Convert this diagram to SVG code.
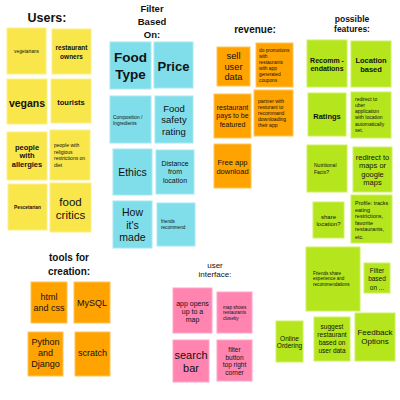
<svg xmlns="http://www.w3.org/2000/svg" width="400" height="400" viewBox="0 0 400 400">
<style>
text{font-family:"Liberation Sans",Arial,sans-serif;fill:#111;dominant-baseline:central}
.c{text-anchor:middle}
.l{text-anchor:start}
.t{font-weight:bold}
.y{fill:#F9E64A;stroke:#FBEF8A;stroke-width:1}
.b{fill:#80DEEA;stroke:#A5E8F1;stroke-width:1}
.o{fill:#FFA300;stroke:#FFC45A;stroke-width:1}
.g{fill:#B5E61D;stroke:#CDEF63;stroke-width:1}
.p{fill:#FF85B0;stroke:#FFA6C6;stroke-width:1}
</style>
<rect width="400" height="400" fill="#fff"/>
<g id="titles">
<text class="c t" x="47" y="18" font-size="12.5">Users:</text>
<text class="c t" x="152" y="8" font-size="9.5">Filter</text>
<text class="c t" x="152" y="21" font-size="9.5">Based</text>
<text class="c t" x="152" y="34" font-size="9.5">On:</text>
<text class="c t" x="255" y="29" font-size="10">revenue:</text>
<text class="c t" x="352" y="19" font-size="8.5">possible</text>
<text class="c t" x="352" y="29" font-size="8.5">features:</text>
<text class="c t" x="69" y="257" font-size="10">tools for</text>
<text class="c t" x="69" y="271" font-size="10">creation:</text>
<text class="c" x="215" y="265" font-size="8">user</text>
<text class="c" x="215" y="274.5" font-size="8">interface:</text>
</g>
<g id="n-vegetarians"><rect class="y" x="7" y="28" width="39" height="46"/><text class="c" x="26.5" y="51" font-size="4.8">vegetarians</text></g>
<g id="n-owners"><rect class="y" x="52" y="29" width="39" height="45"/><text class="c t" x="71.5" y="47" font-size="6.5">restaurant</text><text class="c t" x="71.5" y="56" font-size="6.5">owners</text></g>
<g id="n-vegans"><rect class="y" x="7" y="79" width="40" height="45"/><text class="c t" x="27" y="103" font-size="10.5">vegans</text></g>
<g id="n-tourists"><rect class="y" x="51" y="79" width="40" height="44"/><text class="c t" x="71" y="102" font-size="7.5">tourists</text></g>
<g id="n-allergies"><rect class="y" x="7" y="132" width="40" height="48"/><text class="c t" x="27" y="147" font-size="7.5">people</text><text class="c t" x="27" y="155.5" font-size="7.5">with</text><text class="c t" x="27" y="164" font-size="7.5">allergies</text></g>
<g id="n-religious"><rect class="y" x="50" y="130" width="40" height="50"/><text class="l" x="54" y="145" font-size="5">people with</text><text class="l" x="54" y="151.5" font-size="5">religious</text><text class="l" x="54" y="158" font-size="5">restrictions on</text><text class="l" x="54" y="164.5" font-size="5">diet</text></g>
<g id="n-pescetarian"><rect class="y" x="8" y="184" width="39" height="46"/><text class="c t" x="27.5" y="207" font-size="4.8">Pescetarian</text></g>
<g id="n-critics"><rect class="y" x="50" y="183" width="41" height="49"/><text class="c" x="70.5" y="201.5" font-size="11.5">food</text><text class="c" x="70.5" y="215" font-size="11.5">critics</text></g>

<g id="n-foodtype"><rect class="b" x="110" y="42" width="41" height="47"/><text class="c t" x="130.5" y="57.5" font-size="13.5">Food</text><text class="c t" x="130.5" y="74" font-size="13.5">Type</text></g>
<g id="n-price"><rect class="b" x="154" y="42" width="39" height="46"/><text class="c t" x="173.5" y="66" font-size="13">Price</text></g>
<g id="n-composition"><rect class="b" x="110" y="96" width="41" height="47"/><text class="l" x="113" y="117" font-size="4.8">Composition /</text><text class="l" x="113" y="123" font-size="4.8">Ingredients</text></g>
<g id="n-safety"><rect class="b" x="155" y="96" width="38" height="47"/><text class="c" x="174" y="108" font-size="9.5">Food</text><text class="c" x="174" y="119.5" font-size="9.5">safety</text><text class="c" x="174" y="131.5" font-size="9.5">rating</text></g>
<g id="n-ethics"><rect class="b" x="113" y="149" width="39" height="46"/><text class="c" x="132.5" y="172" font-size="10.5">Ethics</text></g>
<g id="n-distance"><rect class="b" x="156" y="150" width="38" height="44"/><text class="c" x="175" y="163" font-size="7">Distance</text><text class="c" x="175" y="171.5" font-size="7">from</text><text class="c" x="175" y="180" font-size="7">location</text></g>
<g id="n-howmade"><rect class="b" x="113" y="201" width="39" height="47"/><text class="c" x="132.5" y="212" font-size="10.5">How</text><text class="c" x="132.5" y="224.5" font-size="10.5">it's</text><text class="c" x="132.5" y="237" font-size="10.5">made</text></g>
<g id="n-friendsrec"><rect class="b" x="157" y="203" width="38" height="43"/><text class="l" x="161" y="221" font-size="4.6">friends</text><text class="l" x="161" y="227" font-size="4.6">recommend</text></g>

<g id="n-sell"><rect class="o" x="217" y="47" width="33" height="39"/><text class="c" x="233.5" y="56" font-size="9.3">sell</text><text class="c" x="233.5" y="66.5" font-size="9.3">user</text><text class="c" x="233.5" y="77" font-size="9.3">data</text></g>
<g id="n-promotions"><rect class="o" x="256" y="43" width="37" height="44"/><text class="l" x="259" y="50" font-size="4.8">do promotions</text><text class="l" x="259" y="56" font-size="4.8">with</text><text class="l" x="259" y="62" font-size="4.8">restaurants</text><text class="l" x="259" y="68" font-size="4.8">with app</text><text class="l" x="259" y="74" font-size="4.8">generated</text><text class="l" x="259" y="80" font-size="4.8">coupons</text></g>
<g id="n-pays"><rect class="o" x="214" y="94" width="37" height="44"/><text class="c" x="232.5" y="107" font-size="7">restaurant</text><text class="c" x="232.5" y="115.5" font-size="7">pays to be</text><text class="c" x="232.5" y="124" font-size="7">featured</text></g>
<g id="n-partner"><rect class="o" x="254" y="90" width="39" height="46"/><text class="l" x="258" y="101" font-size="5">partner with</text><text class="l" x="258" y="107" font-size="5">resturant to</text><text class="l" x="258" y="113" font-size="5">recommand</text><text class="l" x="258" y="119" font-size="5">downloading</text><text class="l" x="258" y="125" font-size="5">their app</text></g>
<g id="n-freeapp"><rect class="o" x="214" y="144" width="37" height="44"/><text class="c" x="232.5" y="162" font-size="7.5">Free app</text><text class="c" x="232.5" y="171" font-size="7.5">download</text></g>

<g id="n-recomm"><rect class="g" x="307" y="40" width="40" height="47"/><text class="c t" x="327" y="60" font-size="7">Recomm -</text><text class="c t" x="327" y="68" font-size="7">endations</text></g>
<g id="n-location"><rect class="g" x="351" y="41" width="40" height="46"/><text class="c t" x="371" y="60" font-size="7.5">Location</text><text class="c t" x="371" y="69" font-size="7.5">based</text></g>
<g id="n-ratings"><rect class="g" x="308" y="93" width="38" height="43"/><text class="c t" x="327" y="116" font-size="7.5">Ratings</text></g>
<g id="n-uber"><rect class="g" x="351" y="92" width="40" height="46"/><text class="l" x="355" y="99" font-size="5">redirect to</text><text class="l" x="355" y="105" font-size="5">uber</text><text class="l" x="355" y="111" font-size="5">application</text><text class="l" x="355" y="117" font-size="5">with location</text><text class="l" x="355" y="123.5" font-size="5">automatically</text><text class="l" x="355" y="130" font-size="5">set.</text></g>
<g id="n-nutrition"><rect class="g" x="307" y="145" width="40" height="47"/><text class="l" x="314" y="165" font-size="5">Nutritional</text><text class="l" x="314" y="172" font-size="5">Facts?</text></g>
<g id="n-maps"><rect class="g" x="353" y="147" width="39" height="45"/><text class="c" x="372.5" y="157" font-size="7.5">redirect to</text><text class="c" x="372.5" y="165.5" font-size="7.5">maps or</text><text class="c" x="372.5" y="174" font-size="7.5">google</text><text class="c" x="372.5" y="182.5" font-size="7.5">maps</text></g>
<g id="n-share"><rect class="g" x="313" y="202" width="31" height="36"/><text class="c" x="328.5" y="217" font-size="6">share</text><text class="c" x="328.5" y="224" font-size="6">location?</text></g>
<g id="n-profile"><rect class="g" x="351" y="195" width="41" height="48"/><text class="l" x="355" y="203" font-size="5.5">Profile: tracks</text><text class="l" x="355" y="209.5" font-size="5.5">eating</text><text class="l" x="355" y="216" font-size="5.5">restrictions,</text><text class="l" x="355" y="222.5" font-size="5.5">favorite</text><text class="l" x="355" y="229" font-size="5.5">restaurants,</text><text class="l" x="355" y="236.5" font-size="5.5">etc.</text></g>
<g id="n-friendsshare"><rect class="g" x="306" y="247" width="54" height="64"/><text class="l" x="313" y="273" font-size="4.6">Friends share</text><text class="l" x="313" y="278.5" font-size="4.6">experience and</text><text class="l" x="313" y="284" font-size="4.6">recommendations</text></g>
<g id="n-filteron"><rect class="g" x="364" y="263" width="26" height="30"/><text class="c" x="377" y="270" font-size="6.5">Filter</text><text class="c" x="377" y="278.5" font-size="6.5">based</text><text class="c" x="377" y="287" font-size="6.5">on ...</text></g>
<g id="n-online"><rect class="g" x="276" y="321" width="27" height="41"/><text class="c" x="289.5" y="338" font-size="6.5">Online</text><text class="c" x="289.5" y="345.5" font-size="6.5">Ordering</text></g>
<g id="n-suggest"><rect class="g" x="314" y="317" width="36" height="44"/><text class="c" x="332" y="326" font-size="6.5">suggest</text><text class="c" x="332" y="334" font-size="6.5">restaurant</text><text class="c" x="332" y="342" font-size="6.5">based on</text><text class="c" x="332" y="350" font-size="6.5">user data</text></g>
<g id="n-feedback"><rect class="g" x="355" y="313" width="40" height="48"/><text class="c" x="375" y="332" font-size="8">Feedback</text><text class="c" x="375" y="341" font-size="8">Options</text></g>

<g id="n-html"><rect class="o" x="31" y="282" width="36" height="41"/><text class="c" x="49" y="297" font-size="9">html</text><text class="c" x="49" y="308" font-size="9">and css</text></g>
<g id="n-mysql"><rect class="o" x="74" y="282" width="36" height="41"/><text class="c" x="92" y="303" font-size="9">MySQL</text></g>
<g id="n-python"><rect class="o" x="28" y="332" width="35" height="44"/><text class="c" x="45.5" y="342" font-size="9">Python</text><text class="c" x="45.5" y="353" font-size="9">and</text><text class="c" x="45.5" y="364" font-size="9">Django</text></g>
<g id="n-scratch"><rect class="o" x="75" y="332" width="35" height="44"/><text class="c" x="92.5" y="353" font-size="9">scratch</text></g>

<g id="n-appopens"><rect class="p" x="173" y="288" width="39" height="45"/><text class="c" x="192.5" y="303" font-size="7">app opens</text><text class="c" x="192.5" y="311" font-size="7">up to a</text><text class="c" x="192.5" y="319.5" font-size="7">map</text></g>
<g id="n-mapshows"><rect class="p" x="217" y="292" width="35" height="41"/><text class="l" x="223" y="307" font-size="4.6">map shows</text><text class="l" x="223" y="312.5" font-size="4.6">restaurants</text><text class="l" x="223" y="318" font-size="4.6">closeby</text></g>
<g id="n-search"><rect class="p" x="173" y="340" width="36" height="42"/><text class="c" x="191" y="355" font-size="11">search</text><text class="c" x="191" y="368" font-size="11">bar</text></g>
<g id="n-filterbtn"><rect class="p" x="217" y="340" width="35" height="41"/><text class="c" x="234.5" y="349" font-size="6.5">filter</text><text class="c" x="234.5" y="357" font-size="6.5">button</text><text class="c" x="234.5" y="364.5" font-size="6.5">top right</text><text class="c" x="234.5" y="372" font-size="6.5">corner</text></g>
</svg>
